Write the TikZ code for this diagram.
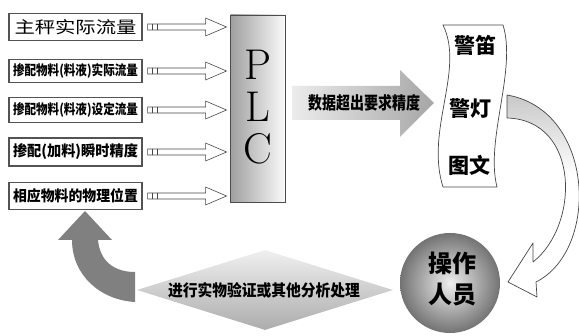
\documentclass[tikz,border=0pt]{standalone}
\usepackage{fontspec}
\newfontfamily\cjk{Noto Sans CJK SC}
\usetikzlibrary{calc,shapes.geometric}
\begin{document}
\begin{tikzpicture}[x=1pt,y=-1pt,
  inbox/.style={draw=gray!65!black, line width=1.1pt, fill=white, minimum width=133pt, inner sep=0pt},
  hollow/.style={draw=gray!55!black, fill=white, line width=0.6pt},
  plcletter/.style={font=\fontsize{43}{42}\selectfont, inner sep=0pt, align=center},
  bannertxt/.style={font=\cjk\bfseries\fontsize{21}{21}\selectfont, inner sep=0pt},
  optxt/.style={font=\cjk\bfseries\fontsize{24}{24}\selectfont, inner sep=0pt},
]
\useasboundingbox (0,0) rectangle (579,336);

% input boxes
\node[inbox, minimum height=27pt] (b1) at (75.5,27) {\resizebox{122pt}{14pt}{\cjk 主秤实际流量}};
\node[inbox, minimum height=23pt] (b2) at (75.5,71) {\resizebox{125pt}{12pt}{\cjk\bfseries 掺配物料(料液)实际流量}};
\node[inbox, minimum height=25pt] (b3) at (75.5,110) {\resizebox{125pt}{12pt}{\cjk\bfseries 掺配物料(料液)设定流量}};
\node[inbox, minimum height=28pt] (b4) at (75.5,152) {\resizebox{125pt}{13pt}{\cjk\bfseries 掺配(加料)瞬时精度}};
\node[inbox, minimum height=27pt] (b5) at (75.5,196) {\resizebox{125pt}{13pt}{\cjk\bfseries 相应物料的物理位置}};

% PLC
\node[draw=gray!60!black, line width=0.8pt, left color=gray!75, right color=gray!3,
      minimum width=55pt, minimum height=187pt, inner sep=0pt] (plc) at (258,108.5) {};
\node[plcletter] (plct) at (258,107) {P\\L\\C};

% hollow arrows from boxes to PLC
\foreach \b in {b1,b2,b3,b4,b5}{
  \coordinate (\b s) at ($(\b.east)+(5,0)$);
  \draw[hollow] ($(\b s)+(0,-3)$) -- ++(58,0) -- ++(0,-6) -- ++(21,9) -- ++(-21,9) -- ++(0,-6) -- ++(-58,0) -- cycle;
  \draw[gray!55!black, line width=0.6pt] ($(\b s)+(5,-3)$) -- ++(0,6) ($(\b s)+(10,-3)$) -- ++(0,6);
}

% big arrow PLC -> banner
\shade[left color=gray!15, right color=gray!70]
  (292,86) -- (400,86) -- (400,70) -- (434,103) -- (400,137) -- (400,120) -- (292,120) -- cycle;
\node[inner sep=0pt] (warn) at (364,103) {\resizebox{112pt}{15pt}{\cjk\bfseries 数据超出要求精度}};

% banner
\draw[draw=gray!55!black, line width=0.7pt, fill=white]
  (443,25) .. controls (465,70) and (425,130) .. (443,187) -- (497,187)
  .. controls (485,140) and (517,70) .. (503,25) -- cycle;
\node[bannertxt] (w1) at (475,45) {警笛};
\node[bannertxt] (w2) at (470,108) {警灯};
\node[bannertxt] (w3) at (469,165) {图文};

% curved arrow banner -> operator
\def\rarrow{(507,95) .. controls (595,110) and (600,250) .. (536,282) -- (537,297) -- (508,282) -- (533,243) -- (533,262) .. controls (580,225) and (580,120) .. (507,118) -- cycle}
\fill[white] \rarrow;
\begin{scope}
  \clip \rarrow;
  \shade[top color=gray!45, bottom color=white] (500,92) rectangle (600,175);
\end{scope}
\draw[gray!55!black, line width=0.7pt, line join=round] \rarrow;

% operator circle
\node[circle, minimum size=100pt, inner sep=0pt, inner color=gray!12, outer color=black!55] (op) at (450,283) {};
\node[optxt] (op1) at (452,263) {操作};
\node[optxt] (op2) at (452,295) {人员};

% diamond
\node[diamond, minimum width=256pt, minimum height=80pt, inner sep=0pt, aspect=3.2,
      top color=gray!12, bottom color=gray!65] (dia) at (265,290) {};
\node[inner sep=0pt] (diat) at (264,290) {\resizebox{192pt}{14pt}{\cjk\bfseries 进行实物验证或其他分析处理}};

% thick curved arrow back to box 5
\fill[black!50] (85,211) -- (112,240) -- (98,240) .. controls (100,262) and (115,272) .. (135,272)
  -- (135,302) .. controls (100,300) and (72,275) .. (72,240) -- (58,240) -- cycle;
\end{tikzpicture}
\end{document}
